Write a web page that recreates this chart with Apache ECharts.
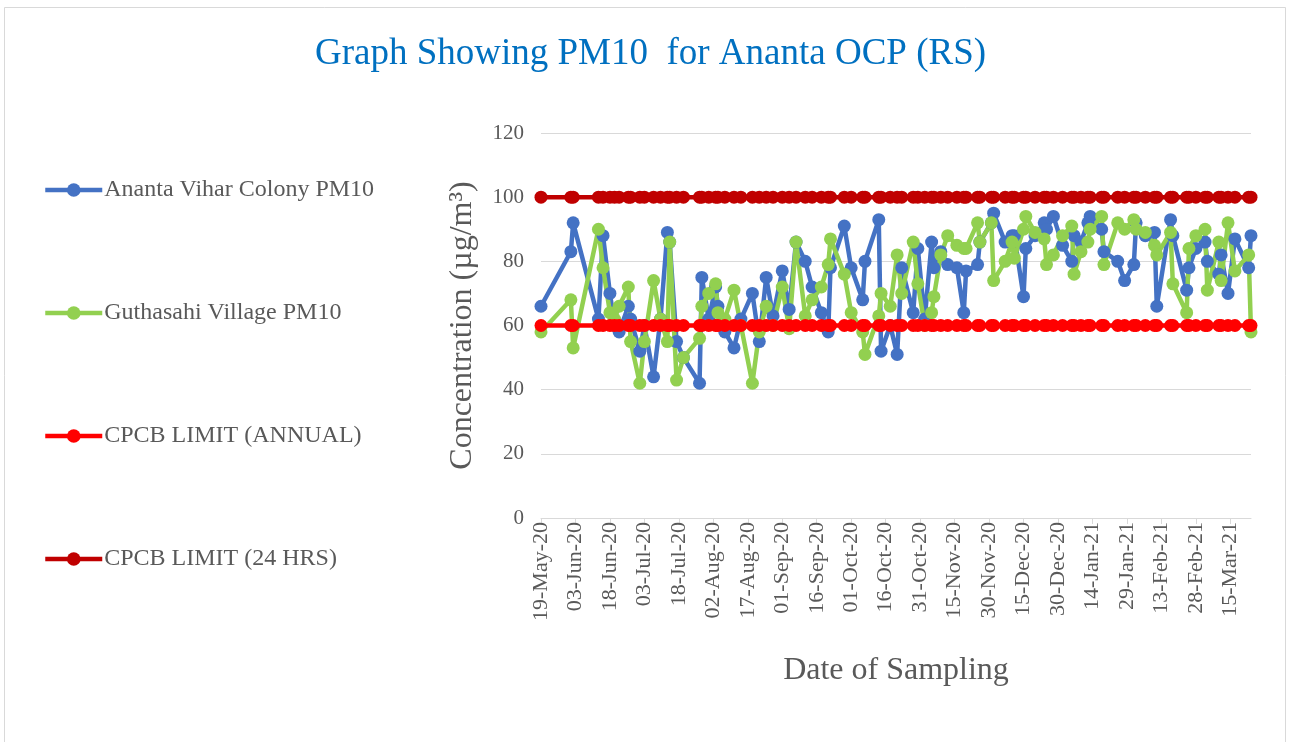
<!DOCTYPE html>
<html>
<head>
<meta charset="utf-8">
<script src="https://cdn.jsdelivr.net/npm/echarts@6/dist/echarts.min.js"></script>
<style>
    html, body { margin: 0; padding: 0; background: #fff; }
    #chart { width: 1301px; height: 742px; }
</style>
</head>
<body>
<div id="chart"></div>
<script>
// sampling dates
var dates = [
    '2020-05-19', '2020-06-01', '2020-06-02', '2020-06-13', '2020-06-15', '2020-06-18', '2020-06-20',
    '2020-06-22', '2020-06-26', '2020-06-27', '2020-07-01', '2020-07-03', '2020-07-07', '2020-07-10',
    '2020-07-13', '2020-07-14', '2020-07-17', '2020-07-20', '2020-07-27', '2020-07-28', '2020-07-31',
    '2020-08-03', '2020-08-04', '2020-08-07', '2020-08-11', '2020-08-14', '2020-08-19', '2020-08-22',
    '2020-08-25', '2020-08-28', '2020-09-01', '2020-09-04', '2020-09-07', '2020-09-11', '2020-09-14',
    '2020-09-18', '2020-09-21', '2020-09-22', '2020-09-28', '2020-10-01', '2020-10-06', '2020-10-07',
    '2020-10-13', '2020-10-14', '2020-10-18', '2020-10-21', '2020-10-23', '2020-10-28', '2020-10-30',
    '2020-11-02', '2020-11-05', '2020-11-06', '2020-11-09', '2020-11-12', '2020-11-16', '2020-11-19',
    '2020-11-20', '2020-11-25', '2020-11-26', '2020-12-01', '2020-12-02', '2020-12-07', '2020-12-10',
    '2020-12-11', '2020-12-15', '2020-12-16', '2020-12-20', '2020-12-24', '2020-12-25', '2020-12-28',
    '2021-01-01', '2021-01-05', '2021-01-06', '2021-01-09', '2021-01-12', '2021-01-13', '2021-01-18',
    '2021-01-19', '2021-01-25', '2021-01-28', '2021-02-01', '2021-02-02', '2021-02-06', '2021-02-10',
    '2021-02-11', '2021-02-17', '2021-02-18', '2021-02-24', '2021-02-25', '2021-02-28', '2021-03-04',
    '2021-03-05', '2021-03-10', '2021-03-11', '2021-03-14', '2021-03-17', '2021-03-23', '2021-03-24'
];

var anantaVihar = [
    66, 83, 92, 62, 88, 70, 60,
    58, 66, 62, 52, 60, 44, 62,
    89, 86, 55, 50, 42, 75, 62,
    72, 66, 58, 53, 62, 70, 55,
    75, 63, 77, 65, 86, 80, 72,
    64, 58, 78, 91, 78, 68, 80,
    93, 52, 60, 51, 78, 64, 84,
    62, 86, 78, 83, 79, 78, 64,
    77, 79, 86, 92, 95, 86, 88,
    88, 69, 84, 88, 92, 90, 94,
    85, 80, 88, 86, 92, 94, 90,
    83, 80, 74, 79, 92, 88, 89,
    66, 93, 88, 71, 78, 84, 86,
    80, 76, 82, 70, 87, 78, 88
];

var guthasahi = [
    58, 68, 53, 90, 78, 64, 62,
    66, 72, 55, 42, 55, 74, 62,
    55, 86, 43, 50, 56, 66, 70,
    73, 64, 62, 71, 60, 42, 58,
    66, 60, 72, 59, 86, 63, 68,
    72, 79, 87, 76, 64, 58, 51,
    63, 70, 66, 82, 70, 86, 73,
    60, 64, 69, 82, 88, 85, 84,
    84, 92, 86, 92, 74, 80, 86,
    81, 90, 94, 89, 87, 79, 82,
    88, 91, 76, 83, 86, 90, 94,
    79, 92, 90, 93, 90, 89, 85,
    82, 89, 73, 64, 84, 88, 90,
    71, 86, 74, 92, 77, 82, 58
];

var annualLimit = 60;
var dailyLimit = 100;

var yTicks = [0, 20, 40, 60, 80, 100, 120];
var months = ['Jan', 'Feb', 'Mar', 'Apr', 'May', 'Jun', 'Jul', 'Aug', 'Sep', 'Oct', 'Nov', 'Dec'];

var DAY = 86400000;
var start = Date.parse(dates[0] + 'T00:00:00Z');

function dayOf(s) {
    return Math.round((Date.parse(s + 'T00:00:00Z') - start) / DAY);
}

function fmtDay(d) {
    var t = new Date(start + d * DAY);
    var dd = t.getUTCDate();
    return (dd < 10 ? '0' : '') + dd + '-' + months[t.getUTCMonth()] + '-' + String(t.getUTCFullYear()).slice(2);
}

function pairs(vals) {
    return dates.map(function (s, i) { return [dayOf(s), vals[i]]; });
}

var font = '"Liberation Serif", "Times New Roman", serif';

function lineSeries(name, color, data) {
    return {
        name: name,
        type: 'line',
        data: data,
        symbol: 'circle',
        symbolSize: 13,
        showAllSymbol: true,
        lineStyle: { color: color, width: 4.5 },
        itemStyle: { color: color },
        animation: false
    };
}

var myChart = echarts.init(document.getElementById('chart'));

var option = {
    backgroundColor: '#fff',
    title: {
        text: 'Graph Showing PM10  for Ananta OCP (RS)',
        left: 'center',
        top: 31,
        textStyle: { fontFamily: font, fontWeight: 'normal', fontSize: 37, color: '#0070C0' }
    },
    graphic: [{
        type: 'rect',
        shape: { x: 4.5, y: 7.5, width: 1281, height: 740 },
        style: { fill: 'none', stroke: '#d9d9d9', lineWidth: 1 },
        silent: true
    }],
    legend: {
        orient: 'vertical',
        left: 43,
        top: 178,
        padding: 0,
        itemWidth: 57,
        itemHeight: 17,
        itemGap: 99,
        lineStyle: { width: 4.5 },
        textStyle: { fontFamily: font, fontSize: 24, color: '#595959', lineHeight: 24, padding: [0, 0, 0, -3] },
        data: ['Ananta Vihar Colony PM10', 'Guthasahi Village PM10', 'CPCB LIMIT (ANNUAL)', 'CPCB LIMIT (24 HRS)']
    },
    grid: {
        left: 541,
        right: 50,
        top: 133,
        bottom: 224
    },
    xAxis: {
        type: 'value',
        min: 0,
        max: dayOf(dates[dates.length - 1]),
        interval: 15,
        name: 'Date of Sampling',
        nameLocation: 'middle',
        nameGap: 137,
        nameTextStyle: { fontFamily: font, fontSize: 32, color: '#595959' },
        axisLine: { show: true, lineStyle: { color: '#d9d9d9', width: 1 } },
        axisTick: { show: true, length: 6, lineStyle: { color: '#d9d9d9' } },
        splitLine: { show: false },
        axisLabel: {
            rotate: 90,
            margin: 4,
            showMaxLabel: false,
            fontFamily: font,
            fontSize: 22,
            color: '#595959',
            formatter: function (v) { return fmtDay(v); }
        }
    },
    yAxis: {
        type: 'value',
        min: yTicks[0],
        max: yTicks[yTicks.length - 1],
        interval: yTicks[1] - yTicks[0],
        name: 'Concentration (µg/m³)',
        nameLocation: 'middle',
        nameGap: 62,
        nameTextStyle: { fontFamily: font, fontSize: 32, color: '#595959' },
        axisLine: { show: false },
        axisTick: { show: false },
        splitLine: { lineStyle: { color: '#d9d9d9', width: 1 } },
        axisLabel: { margin: 17, fontFamily: font, fontSize: 21, color: '#595959' }
    },
    series: [
        lineSeries('Ananta Vihar Colony PM10', '#4472C4', pairs(anantaVihar)),
        lineSeries('Guthasahi Village PM10', '#92D050', pairs(guthasahi)),
        lineSeries('CPCB LIMIT (ANNUAL)', '#FF0000', pairs(dates.map(function () { return annualLimit; }))),
        lineSeries('CPCB LIMIT (24 HRS)', '#C00000', pairs(dates.map(function () { return dailyLimit; })))
    ]
};

myChart.setOption(option);
</script>
</body>
</html>
